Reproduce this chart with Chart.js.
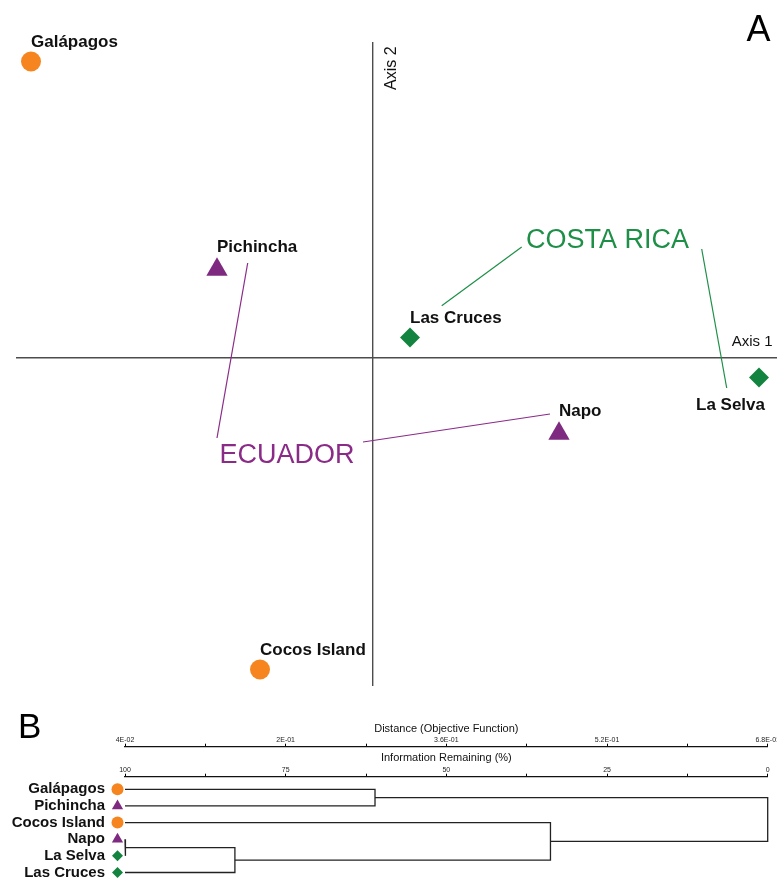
<!DOCTYPE html>
<html>
<head>
<meta charset="utf-8">
<script src="https://cdn.jsdelivr.net/npm/chart.js@4.4.1/dist/chart.umd.min.js"></script>
<style>
  html, body { margin: 0; padding: 0; background: #fff; overflow: hidden; }
  #wrap { position: relative; width: 777px; height: 879px; }
  #ord { position: absolute; left: 0; top: 0; }
  #den { position: absolute; left: 0; top: 690px; }
</style>
</head>
<body>
<div id="wrap">
  <canvas id="ord" width="777" height="690"></canvas>
  <canvas id="den" width="777" height="189"></canvas>
</div>
<script>
// ---- Ordination scores (NMS axes 1 and 2) ----
const sites     = ['Galápagos', 'Pichincha', 'Las Cruces', 'Napo', 'La Selva', 'Cocos Island'];
const siteGroup = ['island', 'ecuador', 'costarica', 'ecuador', 'costarica', 'island'];
const axis1     = [-1.71, -0.78, 0.185, 0.93, 1.93, -0.565];
const axis2     = [1.48, 0.44, 0.10, -0.38, -0.10, -1.56];

// ---- Cluster analysis: leaf order, fusions and information remaining (%) ----
const leaves    = ['Galápagos', 'Pichincha', 'Cocos Island', 'Napo', 'La Selva', 'Las Cruces'];
const leafGroup = ['island', 'ecuador', 'island', 'ecuador', 'costarica', 'costarica'];
// nodes 0-5 are leaves, 6.. are fusions in the order listed
const linkLeft  = [3, 6, 0, 2, 8];
const linkRight = [4, 5, 1, 7, 9];
const linkInfo  = [99.9, 82.9, 61.1, 33.8, 0];

// labelled ticks of the two dendrogram scales
const infoTicks = [100, 75, 50, 25, 0];
const distTicks = [0.04, 0.2, 0.36, 0.52, 0.68];

const FONT = "'Liberation Sans', Arial, Helvetica, sans-serif";

const groupStyle = {
  island:    { color: '#f6851f', shape: 'circle',   r: 10,   rSmall: 6 },
  ecuador:   { color: '#7e2a80', shape: 'triangle', r: 12.3, rSmall: 6.5 },
  costarica: { color: '#13843f', shape: 'rectRot',  r: 10,   rSmall: 5.5 }
};
const groupTextColor = { ecuador: '#8a2b88', costarica: '#1d8f47' };

// country call-outs: text anchor and leader lines, in ordination units
const callouts = [
  { text: 'COSTA RICA', group: 'costarica', at: [0.765, 0.546],
    leaders: [[[0.7435, 0.5525], [0.3435, 0.259]], [[1.6435, 0.5425], [1.7685, -0.1525]]] },
  { text: 'ECUADOR', group: 'ecuador', at: [-0.767, -0.529],
    leaders: [[[-0.6265, 0.4725], [-0.78, -0.4025]], [[-0.05, -0.4225], [0.885, -0.2825]]] }
];
const labelBelow = ['La Selva'];

// ================= Panel A: ordination =================
const groupOrder = ['island', 'ecuador', 'costarica'];
const ordDatasets = groupOrder.map(g => {
  const st = groupStyle[g];
  const pts = [];
  sites.forEach((s, i) => { if (siteGroup[i] === g) pts.push({ x: axis1[i], y: axis2[i], site: s }); });
  return {
    label: g, data: pts, pointStyle: st.shape, pointRadius: st.r, pointHoverRadius: st.r,
    backgroundColor: st.color, borderColor: st.color, pointBorderWidth: 0, borderWidth: 0, clip: false
  };
});

const ordDecor = {
  id: 'ordDecor',
  afterDatasetsDraw(chart) {
    const ctx = chart.ctx;
    const sx = chart.scales.x, sy = chart.scales.y;
    const px = v => sx.getPixelForValue(v), py = v => sy.getPixelForValue(v);
    const area = chart.chartArea;
    ctx.save();

    // call-out leader lines and country names
    callouts.forEach(c => {
      ctx.strokeStyle = groupTextColor[c.group];
      ctx.lineWidth = 1.2;
      c.leaders.forEach(([a, b]) => {
        ctx.beginPath();
        ctx.moveTo(px(a[0]), py(a[1]));
        ctx.lineTo(px(b[0]), py(b[1]));
        ctx.stroke();
      });
      ctx.fillStyle = groupTextColor[c.group];
      ctx.font = `27px ${FONT}`;
      ctx.textAlign = 'left';
      ctx.textBaseline = 'alphabetic';
      ctx.fillText(c.text, px(c.at[0]), py(c.at[1]));
    });

    // site names
    ctx.font = `bold 17px ${FONT}`;
    ctx.fillStyle = '#111';
    ctx.textBaseline = 'alphabetic';
    chart.data.datasets.forEach((ds, di) => {
      const meta = chart.getDatasetMeta(di);
      meta.data.forEach((el, j) => {
        const name = ds.data[j].site;
        const r = ds.pointRadius;
        if (labelBelow.includes(name)) {
          ctx.textAlign = 'right';
          ctx.fillText(name, el.x + 6, el.y + r + 22);
        } else {
          ctx.textAlign = 'left';
          ctx.fillText(name, el.x, el.y - r - 5);
        }
      });
    });

    // axis titles
    ctx.fillStyle = '#111';
    ctx.font = `15px ${FONT}`;
    ctx.textAlign = 'right';
    ctx.fillText('Axis 1', area.right - 4.5, py(0) - 12);
    ctx.save();
    ctx.translate(px(0) + 23, area.top + 47);
    ctx.rotate(-Math.PI / 2);
    ctx.textAlign = 'left';
    ctx.font = `16px ${FONT}`;
    ctx.fillText('Axis 2', 0, 0);
    ctx.restore();

    // panel letter
    ctx.font = `36px ${FONT}`;
    ctx.textAlign = 'left';
    ctx.fillStyle = '#000';
    ctx.fillText('A', 746.5, 40.7);
    ctx.restore();
  }
};

new Chart(document.getElementById('ord'), {
  type: 'scatter',
  data: { datasets: ordDatasets },
  options: {
    responsive: false, animation: false, devicePixelRatio: 1,
    layout: { autoPadding: false, padding: { left: 17, right: 0, top: 43, bottom: 5 } },
    plugins: { legend: { display: false }, tooltip: { enabled: false } },
    scales: {
      x: {
        type: 'linear', min: -1.78, max: 2.02, position: { y: 0 },
        grid: { display: false }, ticks: { display: false },
        border: { display: true, color: '#4d4d4d', width: 1.4 }
      },
      y: {
        type: 'linear', min: -1.6375, max: 1.5725, position: { x: 0 },
        grid: { display: false }, ticks: { display: false },
        border: { display: true, color: '#4d4d4d', width: 1.4 }
      }
    }
  },
  plugins: [ordDecor]
});

// ================= Panel B: dendrogram =================
// node coordinates: leaves sit at 100 % information remaining, fusions at their level
const nodeX = leaves.map(() => 100);
const nodeY = leaves.map((_, i) => i);
linkInfo.forEach((h, k) => {
  nodeX.push(h);
  nodeY.push((nodeY[linkLeft[k]] + nodeY[linkRight[k]]) / 2);
});

const denDatasets = linkInfo.map((h, k) => {
  const a = linkLeft[k], b = linkRight[k];
  return {
    data: [
      { x: nodeX[a], y: nodeY[a] }, { x: h, y: nodeY[a] },
      { x: h, y: nodeY[b] }, { x: nodeX[b], y: nodeY[b] }
    ],
    showLine: true, borderColor: '#222', borderWidth: 1.3, pointRadius: 0, pointHoverRadius: 0,
    tension: 0, fill: false, clip: false, xAxisID: 'info', yAxisID: 'y'
  };
});

function sciLabel(v) {
  const e = Math.floor(Math.log10(v) + 1e-9);
  const m = Math.round(v / Math.pow(10, e) * 10) / 10;
  const ae = Math.abs(e);
  return m + 'E' + (e < 0 ? '-' : '+') + (ae < 10 ? '0' : '') + ae;
}
const near = (v, list) => list.some(t => Math.abs(v - t) < 1e-6);
const evenTicks = (min, max, n) => Array.from({ length: n + 1 }, (_, i) => ({ value: min + (max - min) * i / n }));
const noSidePad = s => { s.paddingLeft = 0; s.paddingRight = 0; };

const topAxisBase = {
  type: 'linear', axis: 'x', position: 'top',
  grid: { display: true, drawOnChartArea: false, drawTicks: true, tickLength: 3, color: '#000', lineWidth: 1 },
  border: { display: true, color: '#111', width: 1.3 },
  afterFit: noSidePad
};

const denDecor = {
  id: 'denDecor',
  afterDraw(chart) {
    const ctx = chart.ctx;
    const sy = chart.scales.y;
    const left = chart.chartArea.left;
    ctx.save();
    leaves.forEach((name, i) => {
      const st = groupStyle[leafGroup[i]];
      ctx.fillStyle = st.color;
      Chart.helpers.drawPoint(ctx, { pointStyle: st.shape, radius: st.rSmall, rotation: 0, borderWidth: 0 },
        left - 7.5, sy.getPixelForValue(i));
    });
    ctx.fillStyle = '#000';
    ctx.font = `35px ${FONT}`;
    ctx.textAlign = 'left';
    ctx.textBaseline = 'alphabetic';
    ctx.fillText('B', 18, 48.3);
    ctx.restore();
  }
};

new Chart(document.getElementById('den'), {
  type: 'scatter',
  data: { datasets: denDatasets },
  options: {
    responsive: false, animation: false, devicePixelRatio: 1,
    layout: { autoPadding: false, padding: { left: 0, right: 9.3, top: 33.2, bottom: 0 } },
    plugins: { legend: { display: false }, tooltip: { enabled: false } },
    scales: {
      info: Object.assign({}, topAxisBase, {
        min: 0, max: 100, reverse: true, weight: 0,
        afterBuildTicks: s => { s.ticks = evenTicks(100, 0, 8); },
        ticks: {
          autoSkip: false, maxRotation: 0, padding: 0, color: '#222',
          font: { family: FONT, size: 7, lineHeight: 1 },
          callback: v => near(v, infoTicks) ? String(Math.round(v)) : ''
        },
        title: {
          display: true, text: 'Information Remaining (%)', color: '#111',
          font: { family: FONT, size: 11, lineHeight: 1 }, padding: { top: 6, bottom: 3 }
        }
      }),
      dist: Object.assign({}, topAxisBase, {
        min: 0.04, max: 0.68, weight: 1,
        afterBuildTicks: s => { s.ticks = evenTicks(0.04, 0.68, 8); },
        ticks: {
          autoSkip: false, maxRotation: 0, padding: 0, color: '#222',
          font: { family: FONT, size: 7, lineHeight: 1 },
          callback: v => near(v, distTicks) ? sciLabel(v) : ''
        },
        title: {
          display: true, text: 'Distance (Objective Function)', color: '#111',
          font: { family: FONT, size: 11, lineHeight: 1 }, padding: { top: 0, bottom: 2.5 }
        }
      }),
      y: {
        type: 'linear', position: 'left', reverse: true, min: -0.757, max: 5.39,
        grid: { display: false, drawTicks: false }, border: { display: false },
        afterBuildTicks: s => { s.ticks = leaves.map((_, i) => ({ value: i })); },
        afterFit: s => { s.width = 125; s.paddingTop = 0; s.paddingBottom = 0; },
        ticks: {
          autoSkip: false, padding: 20, color: '#111',
          font: { family: FONT, size: 15, weight: 'bold', lineHeight: 1 },
          callback: v => leaves[v]
        }
      }
    }
  },
  plugins: [denDecor]
});
</script>
</body>
</html>
